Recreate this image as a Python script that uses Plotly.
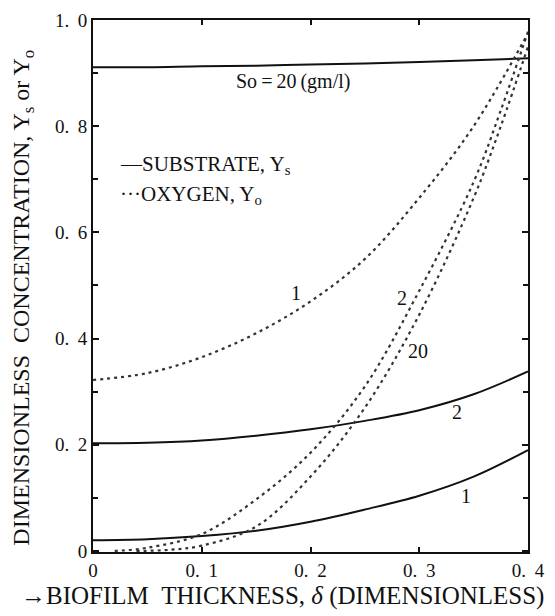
import plotly.graph_objects as go

# ---- data ----
x_sub = [0.0, 0.05, 0.1, 0.15, 0.2, 0.25, 0.3, 0.35, 0.4]
sub_so20 = [0.911, 0.911, 0.913, 0.914, 0.916, 0.918, 0.921, 0.924, 0.928]
sub_2 = [0.203, 0.204, 0.208, 0.217, 0.229, 0.245, 0.265, 0.295, 0.338]
sub_1 = [0.020, 0.022, 0.028, 0.038, 0.055, 0.078, 0.104, 0.140, 0.190]

x_oxy1 = [0.0, 0.05, 0.1, 0.15, 0.2, 0.25, 0.3, 0.35, 0.4]
oxy_1 = [0.322, 0.335, 0.365, 0.410, 0.470, 0.550, 0.665, 0.800, 0.975]

x_oxy2 = [0.02, 0.05, 0.1, 0.15, 0.2, 0.25, 0.3, 0.35, 0.375, 0.4]
oxy_2 = [0.0, 0.006, 0.032, 0.097, 0.185, 0.310, 0.490, 0.695, 0.830, 0.978]

x_oxy20 = [0.04, 0.07, 0.1, 0.15, 0.2, 0.25, 0.3, 0.35, 0.375, 0.4]
oxy_20 = [0.0, 0.002, 0.010, 0.046, 0.140, 0.270, 0.445, 0.665, 0.800, 0.950]

x_ticks = [0, 0.1, 0.2, 0.3, 0.4]
x_ticktext = ["0", "0.\u2009 1", "0.\u2009 2", "0.\u2009 3", "0.\u2009 4"]
y_ticks = [0, 0.2, 0.4, 0.6, 0.8, 1.0]
y_ticktext = ["0", "0.\u2009 2", "0.\u2009 4", "0.\u2009 6", "0.\u2009 8", "1.\u2009 0"]

# curve labels: (x, y, text)
labels = [
    (0.184, 0.884, "So\u2009=\u200920\u2009(gm/l)"),
    (0.187, 0.486, "1"),
    (0.284, 0.477, "2"),
    (0.299, 0.377, "20"),
    (0.335, 0.261, "2"),
    (0.343, 0.104, "1"),
]

FONT = "Liberation Serif"
NB = "\u00a0"
solid = dict(color="#111111", width=2, shape="spline")
dotted = dict(color="#333333", width=2.2, dash="3px,4px", shape="spline")

fig = go.Figure()
for xs, ys, ln in [
    (x_sub, sub_so20, solid),
    (x_sub, sub_2, solid),
    (x_sub, sub_1, solid),
    (x_oxy1, oxy_1, dotted),
    (x_oxy2, oxy_2, dotted),
    (x_oxy20, oxy_20, dotted),
]:
    fig.add_trace(go.Scatter(x=xs, y=ys, mode="lines", line=ln,
                             showlegend=False, hoverinfo="skip"))

ann = []
for x, y, t in labels:
    ann.append(dict(x=x, y=y, xref="x", yref="y", text=t, showarrow=False,
                    xanchor="center", yanchor="middle",
                    font=dict(family=FONT, size=20, color="#111")))

ann.append(dict(x=0.0226, y=0.726, xref="x", yref="y", xanchor="left", yanchor="middle",
                text="\u2014SUBSTRATE, Y<sub>s</sub>", showarrow=False,
                font=dict(family=FONT, size=21, color="#111")))
ann.append(dict(x=0.0226, y=0.671, xref="x", yref="y", xanchor="left", yanchor="middle",
                text="\u00b7\u00b7\u00b7OXYGEN, Y<sub>o</sub>", showarrow=False,
                font=dict(family=FONT, size=21, color="#111")))

# axis titles
ann.append(dict(x=-0.161, y=0.478, xref="paper", yref="paper", textangle=-90,
                xanchor="center", yanchor="middle",
                text="DIMENSIONLESS" + NB + NB + "CONCENTRATION, Y<sub>s</sub> or Y<sub>o</sub>",
                showarrow=False, font=dict(family=FONT, size=24, color="#111")))
ann.append(dict(x=0.436, y=-0.083, xref="paper", yref="paper",
                xanchor="center", yanchor="middle",
                text="\u2192BIOFILM" + NB + NB + "THICKNESS, <i>\u03b4</i>" + NB + "(DIMENSIONLESS)",
                showarrow=False, font=dict(family=FONT, size=25, color="#111")))

fig.update_layout(
    width=555, height=616,
    margin=dict(l=93, r=20, t=10, b=64),
    paper_bgcolor="white", plot_bgcolor="white",
    annotations=ann,
    xaxis=dict(range=[0, 0.4], tickvals=x_ticks, ticktext=x_ticktext,
               ticks="inside", ticklen=5, tickwidth=1.5, tickcolor="#111",
               showline=True, linewidth=2, linecolor="#111", mirror="ticks",
               showgrid=False, zeroline=False,
               tickfont=dict(family=FONT, size=19, color="#111")),
    yaxis=dict(range=[-0.002, 1.0], tickvals=y_ticks, ticktext=y_ticktext,
               ticks="inside", ticklen=6, tickwidth=1.5, tickcolor="#111",
               minor=dict(dtick=0.1, ticks="inside", ticklen=5, tickcolor="#111", showgrid=False),
               showline=True, linewidth=2, linecolor="#111", mirror="ticks",
               showgrid=False, zeroline=False,
               tickfont=dict(family=FONT, size=19, color="#111")),
)

fig.write_html("out.html")
